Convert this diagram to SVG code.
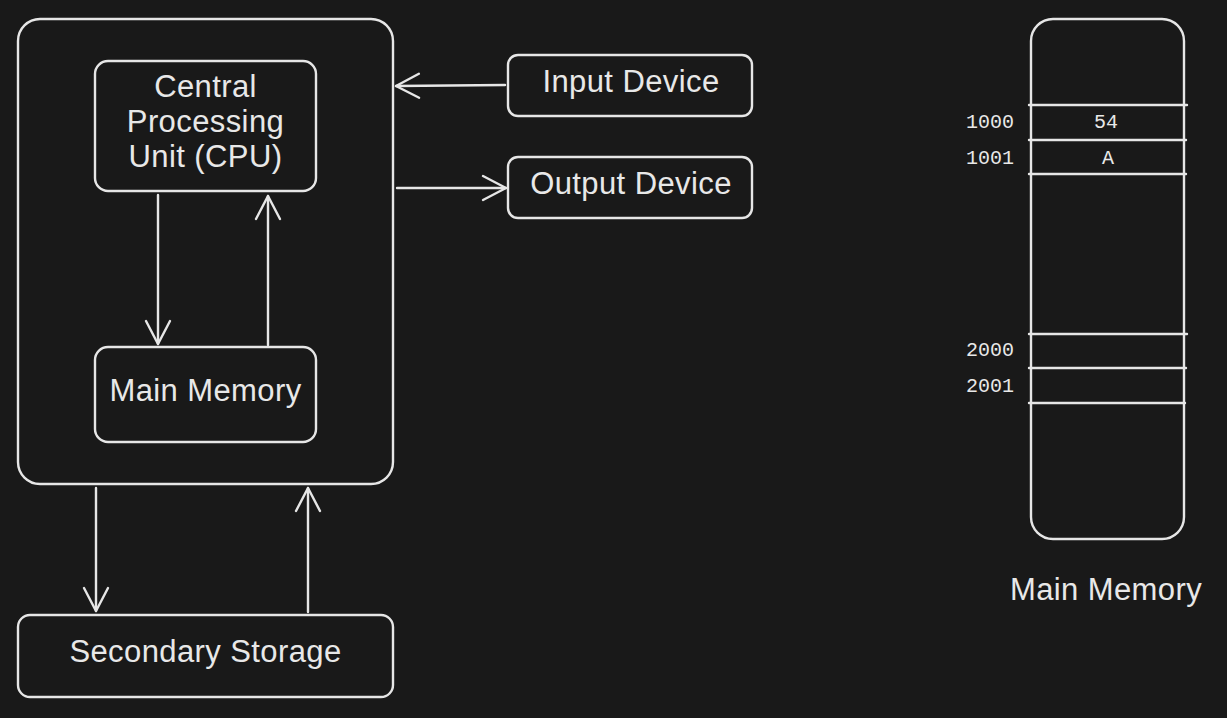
<svg xmlns="http://www.w3.org/2000/svg" width="1227" height="718" viewBox="0 0 1227 718">
  <style>
    .box { fill: none; stroke: #e6e6e6; stroke-width: 2.4; }
    .conn { fill: none; stroke: #e6e6e6; stroke-width: 2.4; stroke-linecap: round; }
    .lbl { font-family: "Liberation Sans", Arial, sans-serif; font-size: 31px; letter-spacing: 0.4px; fill: #e8e8e8; text-anchor: middle; }
    .mono { font-family: "Liberation Mono", "DejaVu Sans Mono", monospace; font-size: 20px; fill: #e8e8e8; }
  </style>
  <defs>
    <marker id="arr" markerUnits="userSpaceOnUse" markerWidth="40" markerHeight="40" refX="0" refY="0" viewBox="-30 -20 40 40" orient="auto" overflow="visible">
      <path d="M-23,-12 L0,0 L-23,12" fill="none" stroke="#e6e6e6" stroke-width="2.4" stroke-linecap="round" stroke-linejoin="round"/>
    </marker>
  </defs>
  <rect width="1227" height="718" fill="#191919"/>

  <g id="computer">
    <rect class="box" x="18" y="19" width="375" height="465" rx="22"/>
  </g>
  <g id="cpu">
    <rect class="box" x="95" y="61" width="221" height="130" rx="13"/>
    <text class="lbl" x="205.5" y="97">Central</text>
    <text class="lbl" x="205.5" y="132">Processing</text>
    <text class="lbl" x="205.5" y="167">Unit (CPU)</text>
  </g>
  <g id="main-memory">
    <rect class="box" x="95" y="347" width="221" height="95" rx="13"/>
    <text class="lbl" x="205.5" y="401">Main Memory</text>
  </g>
  <g id="input-device">
    <rect class="box" x="508" y="55" width="244" height="61" rx="10"/>
    <text class="lbl" x="631" y="92">Input Device</text>
  </g>
  <g id="output-device">
    <rect class="box" x="508" y="157" width="244" height="61" rx="10"/>
    <text class="lbl" x="631" y="194">Output Device</text>
  </g>
  <g id="secondary-storage">
    <rect class="box" x="18" y="615" width="375" height="82" rx="12"/>
    <text class="lbl" x="205.5" y="662">Secondary Storage</text>
  </g>

  <g id="connectors">
    <line class="conn" x1="158" y1="195" x2="158" y2="344" marker-end="url(#arr)"/>
    <line class="conn" x1="268" y1="345" x2="268" y2="196" marker-end="url(#arr)"/>
    <line class="conn" x1="505" y1="85" x2="396" y2="86" marker-end="url(#arr)"/>
    <line class="conn" x1="397" y1="188" x2="506" y2="188" marker-end="url(#arr)"/>
    <line class="conn" x1="96" y1="488" x2="96" y2="611" marker-end="url(#arr)"/>
    <line class="conn" x1="308" y1="612" x2="308" y2="488" marker-end="url(#arr)"/>
  </g>

  <g id="memory-diagram">
    <rect class="box" x="1031" y="19" width="153" height="520" rx="22"/>
    <line class="conn" x1="1029" y1="105" x2="1187" y2="105"/>
    <line class="conn" x1="1029" y1="140" x2="1186" y2="140"/>
    <line class="conn" x1="1029" y1="174" x2="1186" y2="174"/>
    <line class="conn" x1="1029" y1="334" x2="1187" y2="334"/>
    <line class="conn" x1="1029" y1="368" x2="1186" y2="368"/>
    <line class="conn" x1="1029" y1="403" x2="1185" y2="403"/>
    <text class="mono" x="966" y="128">1000</text>
    <text class="mono" x="966" y="164">1001</text>
    <text class="mono" x="966" y="356">2000</text>
    <text class="mono" x="966" y="392">2001</text>
    <text class="mono" x="1106" y="128" text-anchor="middle">54</text>
    <text class="mono" x="1108" y="164" text-anchor="middle">A</text>
    <text class="lbl" x="1106" y="600">Main Memory</text>
  </g>
</svg>
